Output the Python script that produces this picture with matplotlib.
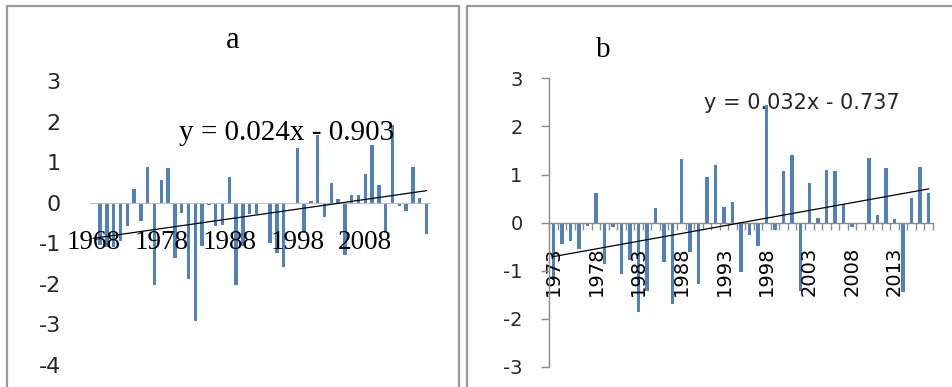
"""Two bar panels of yearly anomalies (a: 1968-2017, b: 1973-2017) with linear trend lines."""
import matplotlib; matplotlib.use("Agg")
import matplotlib.pyplot as plt
from matplotlib.lines import Line2D
import numpy as np

plt.rcParams["axes.unicode_minus"] = False

BAR, AX, INK, BOX = "#4f81bd", "#8c8c8c", "#262626", "#9a9a9a"
SERIF, SANS = "Liberation Serif", "DejaVu Sans"

years_a = list(range(1968, 2018))
vals_a = [-0.04, -1.05, -1.10, -1.10, -0.95, -0.58, 0.35, -0.45, 0.88, -2.04,
          0.55, 0.86, -1.37, -0.26, -1.89, -2.92, -1.07, -0.05, -0.58, -0.55,
          0.63, -2.02, -1.07, -0.27, -0.27, -0.04, -1.00, -1.25, -1.58, -0.04,
          1.34, -0.74, 0.04, 1.66, -0.35, 0.48, 0.08, -1.28, 0.18, 0.20,
          0.72, 1.42, 0.43, -0.75, 1.93, -0.08, -0.20, 0.89, 0.12, -0.78]
slope_a, icpt_a = 0.024, -0.903
ticks_a = [1968, 1978, 1988, 1998, 2008]

years_b = list(range(1973, 2018))
vals_b = [-1.20, -0.45, -0.38, -0.54, -0.06, 0.61, -0.85, -0.08, -1.07, -0.78,
          -1.86, -1.41, 0.30, -0.82, -1.68, 1.33, -0.60, -1.28, 0.96, 1.19,
          0.33, 0.44, -1.03, -0.26, -0.49, 2.44, -0.15, 1.07, 1.41, -1.42,
          0.82, 0.10, 1.09, 1.07, 0.39, -0.09, 0.00, 1.34, 0.16, 1.13,
          0.07, -1.44, 0.51, 1.15, 0.61]
slope_b, icpt_b = 0.032, -0.737
ticks_b = list(range(1973, 2018, 5))

W, H = 953, 387
fig = plt.figure(figsize=(W / 100, H / 100), dpi=100)


def px(x0, y0, x1, y1):
    # pixel box (top-left origin) -> figure fraction rect
    return [x0 / W, 1 - y1 / H, (x1 - x0) / W, (y1 - y0) / H]


# ---- panel a ----
ax = fig.add_axes(px(89.9, 81.2, 429.9, 364.7))
xa = np.arange(1, len(vals_a) + 1)
ax.bar(xa, vals_a, width=0.48, color=BAR, zorder=1)
ax.plot([xa[0], xa[-1]], [slope_a * xa[0] + icpt_a, slope_a * xa[-1] + icpt_a],
        color="black", lw=0.9, zorder=3)
ax.set_xlim(0.5, len(vals_a) + 0.5)
ax.set_ylim(-4, 3)
ax.set_yticks(range(-4, 4))
ax.set_xticks([years_a.index(y) + 1 for y in ticks_a], [str(y) for y in ticks_a])
for sp in ["top", "right", "left"]:
    ax.spines[sp].set_visible(False)
ax.spines["bottom"].set_position(("data", 0))
ax.spines["bottom"].set_color("#bfbfbf")
ax.tick_params(axis="x", length=0, pad=20, labelsize=19.5)
ax.tick_params(axis="y", length=0, pad=21, labelsize=16, labelcolor=INK)
for lb in ax.get_xticklabels():
    lb.set_fontfamily(SERIF)
for lb in ax.get_yticklabels():
    lb.set_fontfamily(SANS)
ax.text(29.4, 1.72, "y = 0.024x - 0.903", ha="center", va="center",
        fontsize=21, family=SERIF, zorder=4)
ax.patch.set_alpha(0)
fig.text(233 / W, 1 - 40 / H, "a", ha="center", va="center", fontsize=22, family=SERIF)

# ---- panel b ----
bx = fig.add_axes(px(549, 78.4, 933, 367))
xb = np.arange(1, len(vals_b) + 1)
bx.bar(xb, vals_b, width=0.4, color=BAR, zorder=1)
bx.plot([xb[0], xb[-1]], [slope_b * xb[0] + icpt_b, slope_b * xb[-1] + icpt_b],
        color="black", lw=0.9, zorder=3)
bx.set_xlim(0.5, len(vals_b) + 0.5)
bx.set_ylim(-3, 3)
bx.set_yticks(range(-3, 4))
for sp in ["top", "right"]:
    bx.spines[sp].set_visible(False)
bx.spines["bottom"].set_position(("data", 0))
for sp in ["bottom", "left"]:
    bx.spines[sp].set_color(AX)
    bx.spines[sp].set_linewidth(1.0)
bx.set_xticks(np.arange(0.5, len(vals_b) + 1, 1.0), [""] * (len(vals_b) + 1))
bx.set_xticks([years_b.index(y) + 1 for y in ticks_b], [str(y) for y in ticks_b], minor=True)
bx.tick_params(axis="x", which="major", direction="out", length=5, color=AX, width=1)
bx.tick_params(axis="x", which="minor", length=0, pad=17, labelsize=14, labelrotation=90)
bx.tick_params(axis="y", direction="out", length=6, color=AX, width=1, pad=13,
               labelsize=14, labelcolor=INK)
for lb in bx.get_xticklabels(minor=True):
    lb.set_fontfamily(SANS)
    lb.set_va("top")
fig.text(801.5 / W, 1 - 103 / H, "y = 0.032x - 0.737", ha="center", va="center",
         fontsize=15, family=SANS, color=INK)
bx.patch.set_alpha(0)
fig.text(603 / W, 1 - 50 / H, "b", ha="center", va="center", fontsize=21, family=SERIF)

# ---- panel frames ----
for xs, ys in [([7, 7, 459.5, 459.5], [H, 5.5, 5.5, H]),
               ([467, 467, W + 5], [H, 5.5, 5.5])]:
    fig.add_artist(Line2D([x / W for x in xs], [1 - y / H for y in ys],
                          color=BOX, lw=1.6, transform=fig.transFigure))

fig.savefig("out.png", dpi=100, facecolor="white")
